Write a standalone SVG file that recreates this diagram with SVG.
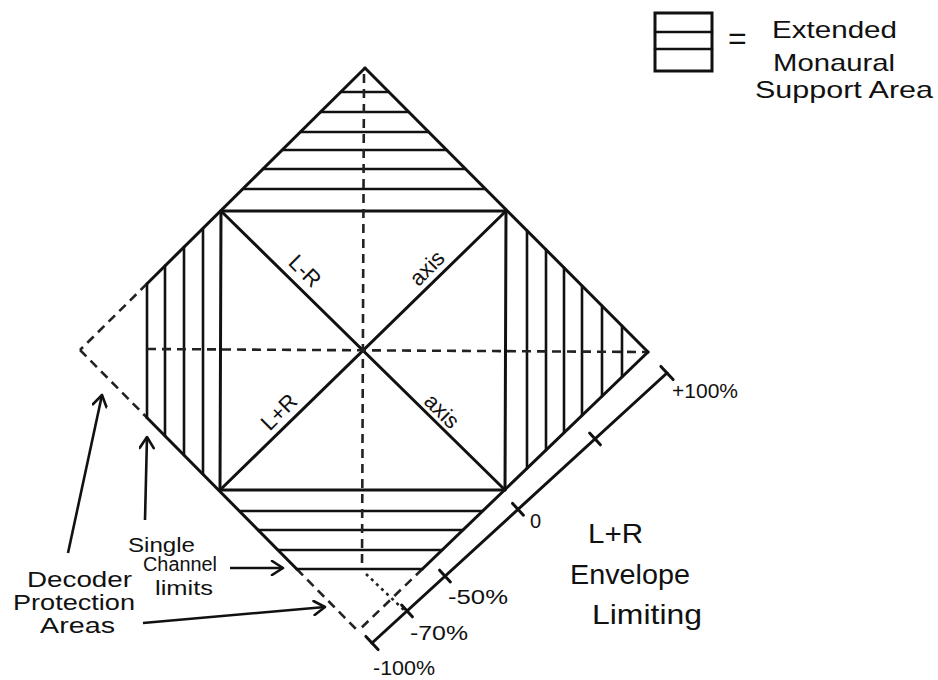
<svg xmlns="http://www.w3.org/2000/svg" width="938" height="680" viewBox="0 0 938 680">
<defs>
<style>
.o{stroke:#111;stroke-width:3;fill:none;stroke-linecap:round}
.h{stroke:#111;stroke-width:2.6;fill:none;stroke-linecap:round}
.d{stroke:#222;stroke-width:2.6;fill:none;stroke-dasharray:9 6}
.dt{stroke:#222;stroke-width:2.6;fill:none;stroke-dasharray:3 4}
.a{stroke:#111;stroke-width:2.6;fill:none;marker-end:url(#ah)}
text{font-family:"Liberation Sans","DejaVu Sans",sans-serif;fill:#111}
.t20{font-size:20px}
.t22{font-size:22px}
.t24{font-size:24px}
.t28{font-size:28px}
</style>
<marker id="ah" markerUnits="userSpaceOnUse" markerWidth="16" markerHeight="16" refX="13" refY="8" orient="auto">
<path d="M2,1 L13,8 L2,15" fill="none" stroke="#111" stroke-width="2.6" stroke-linecap="round" stroke-linejoin="round"/>
</marker>
</defs>
<rect width="938" height="680" fill="#fff"/>

<g id="legend">
<rect x="655" y="13" width="57" height="58" class="o"/>
<line x1="655" y1="32" x2="712" y2="32" class="h"/>
<line x1="655" y1="49" x2="712" y2="49" class="h"/>
<text x="728" y="49" style="font-size:32px">=</text>
<text x="772" y="38" class="t24" textLength="125" lengthAdjust="spacingAndGlyphs">Extended</text>
<text x="773" y="71" class="t24" textLength="122" lengthAdjust="spacingAndGlyphs">Monaural</text>
<text x="755" y="98" class="t24" textLength="178" lengthAdjust="spacingAndGlyphs">Support Area</text>
</g>

<g id="outline">
<line x1="365" y1="68" x2="648" y2="352" class="o"/>
<line x1="365" y1="68" x2="147" y2="283.7" class="o"/>
<line x1="147" y1="283.7" x2="80" y2="350" class="d"/>
<line x1="80" y1="350" x2="147" y2="417.7" class="d"/>
<line x1="147" y1="417.7" x2="296.7" y2="569" class="o"/>
<line x1="296.7" y1="569" x2="358" y2="631" class="d"/>
<line x1="648" y1="352" x2="422.4" y2="569" class="o"/>
<line x1="422.4" y1="569" x2="358" y2="631" class="d"/>
</g>

<g id="top-area">
<line x1="340.7" y1="92" x2="388.9" y2="92" class="h"/>
<line x1="320.5" y1="112" x2="408.8" y2="112" class="h"/>
<line x1="300.3" y1="132" x2="428.8" y2="132" class="h"/>
<line x1="282.1" y1="150" x2="446.7" y2="150" class="h"/>
<line x1="262.9" y1="169" x2="465.6" y2="169" class="h"/>
<line x1="242.7" y1="189" x2="485.6" y2="189" class="h"/>
</g>

<g id="left-area">
<line x1="147" y1="283.7" x2="147" y2="417.7" class="h"/>
<line x1="165" y1="265.9" x2="165" y2="435.9" class="h"/>
<line x1="184" y1="247.1" x2="184" y2="455.1" class="h"/>
<line x1="203" y1="228.3" x2="203" y2="474.3" class="h"/>
</g>

<g id="right-area">
<line x1="527" y1="230.6" x2="527" y2="468.4" class="h"/>
<line x1="546" y1="249.6" x2="546" y2="450.1" class="h"/>
<line x1="564" y1="267.7" x2="564" y2="432.8" class="h"/>
<line x1="582" y1="285.7" x2="582" y2="415.5" class="h"/>
<line x1="602" y1="305.8" x2="602" y2="396.3" class="h"/>
<line x1="622" y1="325.9" x2="622" y2="377" class="h"/>
</g>

<g id="bottom-area">
<line x1="239.3" y1="511" x2="482.5" y2="511" class="h"/>
<line x1="258.1" y1="530" x2="463" y2="530" class="h"/>
<line x1="277.9" y1="550" x2="442.2" y2="550" class="h"/>
<line x1="296.7" y1="569" x2="422.4" y2="569" class="h"/>
</g>

<g id="square">
<polygon points="221,211 506,211 505,490 220,490" class="o" stroke-linejoin="round"/>
<line x1="221" y1="211" x2="505" y2="490" class="o"/>
<line x1="506" y1="211" x2="220" y2="490" class="o"/>
</g>

<g id="center-dashes">
<line x1="364" y1="74" x2="362" y2="569" class="d"/>
<line x1="147" y1="349" x2="646" y2="352" class="d"/>
<line x1="366" y1="574" x2="404" y2="610" class="dt"/>
</g>

<g id="axis-labels">
<text class="t22" text-anchor="middle" dominant-baseline="central" transform="translate(305,271) rotate(45)">L-R</text>
<text class="t22" text-anchor="middle" dominant-baseline="central" transform="translate(427,268) rotate(-45)">axis</text>
<text class="t22" text-anchor="middle" dominant-baseline="central" transform="translate(279,412) rotate(-45)">L+R</text>
<text class="t22" text-anchor="middle" dominant-baseline="central" transform="translate(442,411) rotate(45)">axis</text>
</g>

<g id="envelope-scale">
<line x1="667" y1="373" x2="372" y2="643" class="o"/>
<line x1="660.9" y1="366.4" x2="673.1" y2="379.6" class="o"/>
<line x1="365.9" y1="636.4" x2="378.1" y2="649.6" class="o"/>
<line x1="589.6" y1="433" x2="600.4" y2="444.8" class="o"/>
<line x1="512.6" y1="503.4" x2="523.4" y2="515.2" class="o"/>
<line x1="439.6" y1="570.2" x2="450.4" y2="582" class="o"/>
<line x1="401.6" y1="605" x2="412.4" y2="616.8" class="o"/>
<text x="672" y="398" class="t20" textLength="66" lengthAdjust="spacingAndGlyphs">+100%</text>
<text x="530" y="528" class="t20">0</text>
<text x="448" y="604" class="t20" textLength="60" lengthAdjust="spacingAndGlyphs">-50%</text>
<text x="410" y="640" class="t20" textLength="58" lengthAdjust="spacingAndGlyphs">-70%</text>
<text x="373" y="675" class="t20" textLength="62" lengthAdjust="spacingAndGlyphs">-100%</text>
<text x="588" y="543" class="t28" textLength="55" lengthAdjust="spacingAndGlyphs">L+R</text>
<text x="570" y="584" class="t28" textLength="120" lengthAdjust="spacingAndGlyphs">Envelope</text>
<text x="592" y="624" class="t28" textLength="110" lengthAdjust="spacingAndGlyphs">Limiting</text>
</g>

<g id="left-labels">
<text x="128" y="552" class="t20" textLength="67" lengthAdjust="spacingAndGlyphs">Single</text>
<text x="143" y="571" class="t20" textLength="74" lengthAdjust="spacingAndGlyphs">Channel</text>
<text x="155" y="595" class="t20" textLength="58" lengthAdjust="spacingAndGlyphs">limits</text>
<text x="27" y="587" class="t22" textLength="105" lengthAdjust="spacingAndGlyphs">Decoder</text>
<text x="13" y="610" class="t22" textLength="122" lengthAdjust="spacingAndGlyphs">Protection</text>
<text x="40" y="633" class="t22" textLength="75" lengthAdjust="spacingAndGlyphs">Areas</text>
</g>

<g id="connectors">
<line x1="68" y1="553" x2="102" y2="395" class="a"/>
<line x1="145" y1="520" x2="147" y2="437" class="a"/>
<line x1="230" y1="568" x2="283" y2="568" class="a"/>
<line x1="143" y1="623" x2="325" y2="607" class="a"/>
</g>
</svg>
